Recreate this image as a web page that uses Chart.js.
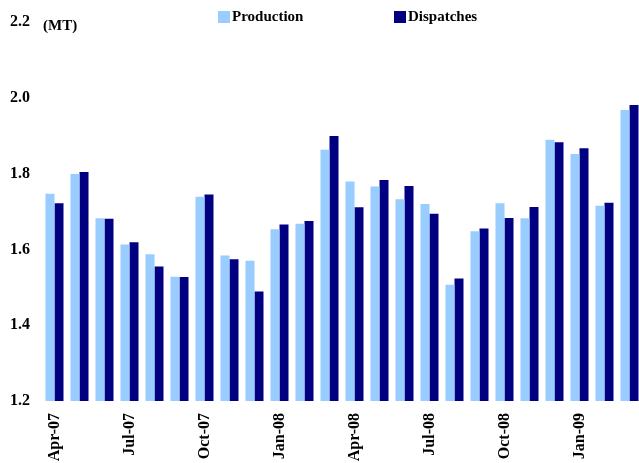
<!DOCTYPE html>
<html>
<head>
<meta charset="utf-8">
<script src="https://cdn.jsdelivr.net/npm/chart.js@4"></script>
<style>
  body { margin: 0; overflow: hidden; background: #fff; }
  #wrap { width: 645px; height: 463px; }
</style>
</head>
<body>
<div id="wrap"><canvas id="chart" width="645" height="463"></canvas></div>
<script>
// Monthly production and dispatches (MT), Apr-07 .. Mar-09

const months = ["Apr-07", "May-07", "Jun-07", "Jul-07", "Aug-07", "Sep-07",
    "Oct-07", "Nov-07", "Dec-07", "Jan-08", "Feb-08", "Mar-08",
    "Apr-08", "May-08", "Jun-08", "Jul-08", "Aug-08", "Sep-08",
    "Oct-08", "Nov-08", "Dec-08", "Jan-09", "Feb-09", "Mar-09"];

const production = [1.747, 1.799, 1.682, 1.613, 1.587, 1.528, 1.739, 1.584, 1.570, 1.653, 1.668, 1.863,
    1.779, 1.766, 1.732, 1.720, 1.507, 1.648, 1.722, 1.682, 1.889, 1.852, 1.715, 1.968];

const dispatches = [1.722, 1.804, 1.681, 1.619, 1.555, 1.527, 1.745, 1.574, 1.489, 1.666, 1.675, 1.899,
    1.711, 1.783, 1.767, 1.694, 1.523, 1.655, 1.683, 1.712, 1.883, 1.867, 1.723, 1.981];

const yTicks = [1.2, 1.4, 1.6, 1.8, 2.0, 2.2];

const serif = '"Liberation Serif", "Times New Roman", serif';

// legend + unit label drawn on the canvas
const topLegend = {
    id: 'topLegend',
    afterDraw(chart) {
        const ctx = chart.ctx;
        const spots = [218, 394];
        ctx.save();
        ctx.font = 'bold 15px ' + serif;
        ctx.textBaseline = 'middle';
        ctx.fillStyle = '#000';
        ctx.fillText('(MT)', 43, 26);
        chart.data.datasets.forEach((ds, i) => {
            ctx.fillStyle = ds.backgroundColor;
            ctx.fillRect(spots[i], 11, 12, 12);
            ctx.fillStyle = '#000';
            ctx.fillText(ds.label, spots[i] + 14, 17);
        });
        ctx.restore();
    }
};

let chart = new Chart(document.getElementById('chart'), {
    type: 'bar',
    data: {
        labels: months,
        datasets: [{
            label: 'Production',
            data: production,
            backgroundColor: '#99CCFF',
            borderWidth: 0,
            barPercentage: 1,
            categoryPercentage: 0.72
        }, {
            label: 'Dispatches',
            data: dispatches,
            backgroundColor: '#000080',
            borderWidth: 0,
            barPercentage: 1,
            categoryPercentage: 0.72
        }]
    },
    options: {
        responsive: false,
        animation: false,
        layout: {
            padding: { top: 22, right: 3, left: 0, bottom: 0 }
        },
        scales: {
            x: {
                grid: { display: false, drawTicks: false },
                border: { display: false },
                afterFit: scale => {
                    scale.height = 62;
                    scale.paddingLeft = 0;
                    scale.paddingRight = 0;
                },
                ticks: {
                    autoSkip: false,
                    minRotation: 90,
                    maxRotation: 90,
                    padding: 12,
                    color: '#000',
                    font: { family: serif, size: 16, weight: 'bold' },
                    callback: function(value, index) {
                        return index % 3 === 0 ? months[index] : '';
                    }
                }
            },
            y: {
                min: yTicks[0],
                max: yTicks[yTicks.length - 1],
                grid: { display: false, drawTicks: false },
                border: { display: false },
                afterFit: scale => { scale.width = 42; },
                afterBuildTicks: scale => {
                    scale.ticks = yTicks.map(v => ({ value: v }));
                },
                ticks: {
                    padding: 12,
                    color: '#000',
                    font: { family: serif, size: 16, weight: 'bold' },
                    callback: value => value.toFixed(1)
                }
            }
        },
        plugins: {
            legend: { display: false },
            tooltip: { enabled: false }
        }
    },
    plugins: [topLegend]
});
</script>
</body>
</html>
